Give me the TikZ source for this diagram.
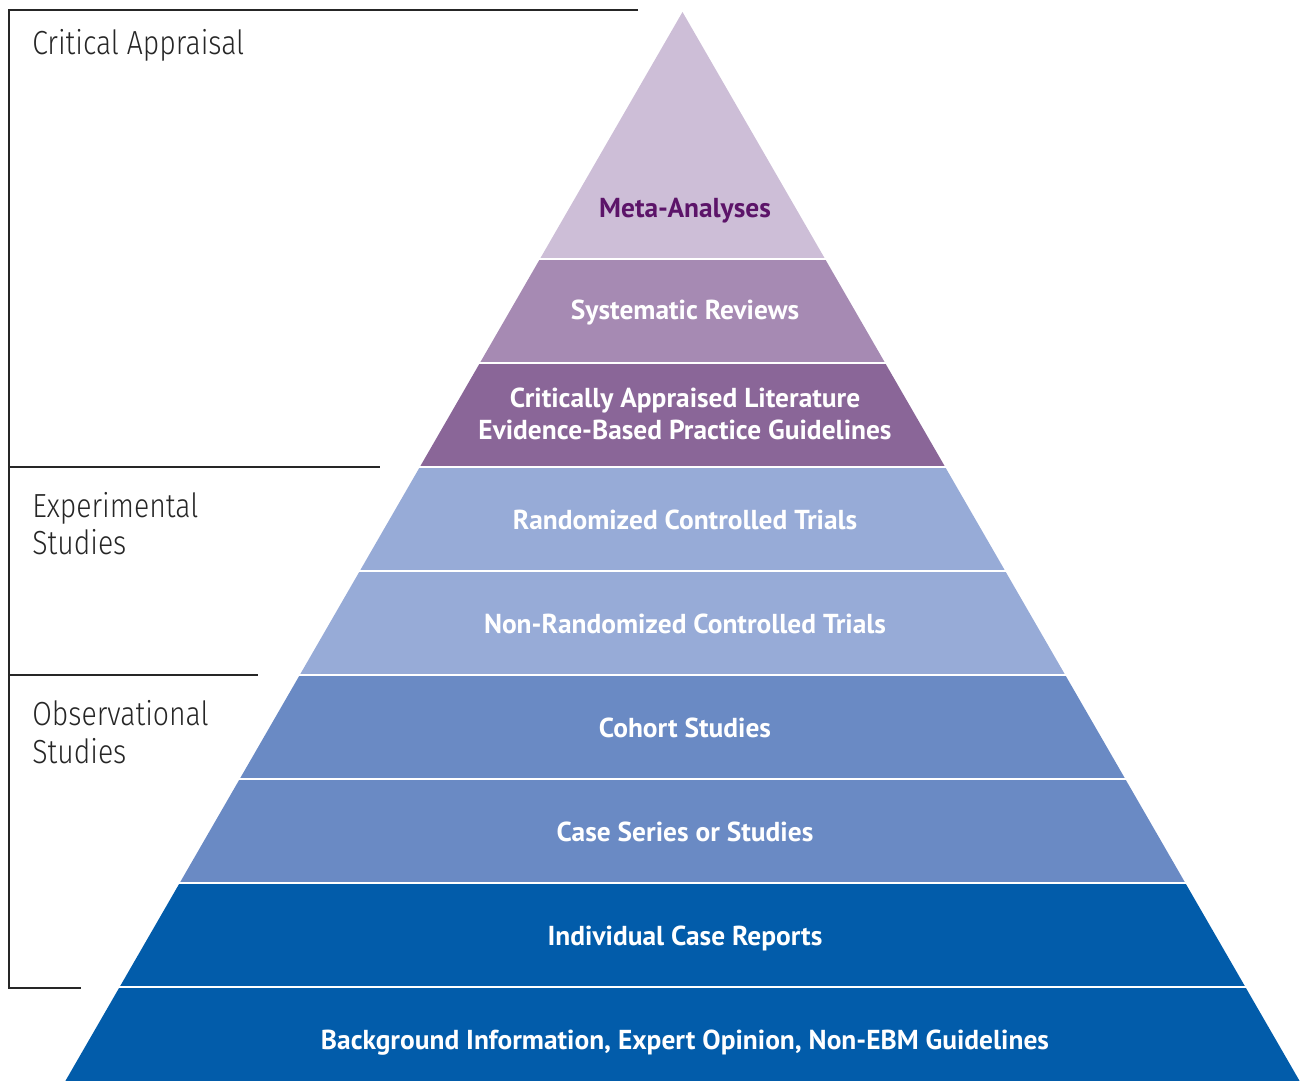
\documentclass[tikz,border=0pt]{standalone}
\usepackage{fontspec}
\setmainfont{PT Sans}
\newfontfamily\grouplight[FakeStretch=0.85]{Fira Sans Light}
\usepackage{tikz}
\usetikzlibrary{positioning}

\definecolor{metaFill}{HTML}{CDBED7}
\definecolor{metaText}{HTML}{5C1469}
\definecolor{sysFill}{HTML}{A68AB3}
\definecolor{capFill}{HTML}{8A6698}
\definecolor{expFill}{HTML}{97ABD7}
\definecolor{obsFill}{HTML}{6A8AC4}
\definecolor{baseFill}{HTML}{025CAA}

\begin{document}
\begin{tikzpicture}[
    x=0.02cm, y=-0.02cm,
    level/.style={font=\bfseries\fontsize{15.6}{18}\selectfont,
      text=white, align=center, anchor=base, inner sep=0pt},
    group/.style={font=\grouplight\fontsize{19}{21.5}\selectfont,
      text=black!85, align=left, anchor=base west, inner sep=0pt},
    bracket/.style={draw=black!85, line width=0.6pt},
    gap/.style={draw=white, line width=1.7pt}]
    \useasboundingbox (0,0) rectangle (1303,1081);
    % pyramid layers: top/bottom/colour
    \foreach \ytop/\ybot/\col in {12/259/metaFill, 259/363/sysFill,
        363/467/capFill, 467/571/expFill, 571/675/expFill,
        675/779/obsFill, 779/883/obsFill, 883/987/baseFill,
        987/1081/baseFill} {
      \fill[\col] ({682.5-(\ytop-12)*0.5773},\ytop)
        -- ({682.5+(\ytop-12)*0.5773},\ytop)
        -- ({682.5+(\ybot-12)*0.5773},\ybot)
        -- ({682.5-(\ybot-12)*0.5773},\ybot) -- cycle;
    }
    \foreach \y in {259,363,467,571,675,779,883,987}
      \draw[gap] ({682.5-(\y-12)*0.5773-3},\y)
        -- ({682.5+(\y-12)*0.5773+3},\y);
    % level labels (at their baselines)
    \node[level, text=metaText] (meta) at (685,218) {Meta-Analyses};
    \node[level] (sysrev) at (685,320) {Systematic Reviews};
    \node[level] (crit) at (685,439)
      {Critically Appraised Literature\\Evidence-Based Practice Guidelines};
    \node[level] (rct) at (685,529) {Randomized Controlled Trials};
    \node[level] (nrct) at (685,633) {Non-Randomized Controlled Trials};
    \node[level] (cohort) at (685,737) {Cohort Studies};
    \node[level] (series) at (685,841) {Case Series or Studies};
    \node[level] (report) at (685,945) {Individual Case Reports};
    \node[level] (backgr) at (685,1049)
      {Background Information, Expert Opinion, Non-EBM Guidelines};
    % brackets on the left
    \coordinate (topL) at (9,10);
    \coordinate (topR) at (638,10);
    \coordinate (expL) at (9,467);
    \coordinate (expR) at (380,467);
    \coordinate (obsL) at (9,675);
    \coordinate (obsR) at (258,675);
    \coordinate (endL) at (9,988);
    \coordinate (endR) at (81,988);
    \draw[bracket] (topR) -- (topL) -- (endL) -- (endR);
    \draw[bracket] (expL) -- (expR);
    \draw[bracket] (obsL) -- (obsR);
    \node[group] (critapp) at (32,55) {Critical Appraisal};
    \node[group] (expst) at (32,555) {Experimental\\Studies};
    \node[group] (obsst) at (32,763) {Observational\\Studies};
  \end{tikzpicture}
\end{document}
